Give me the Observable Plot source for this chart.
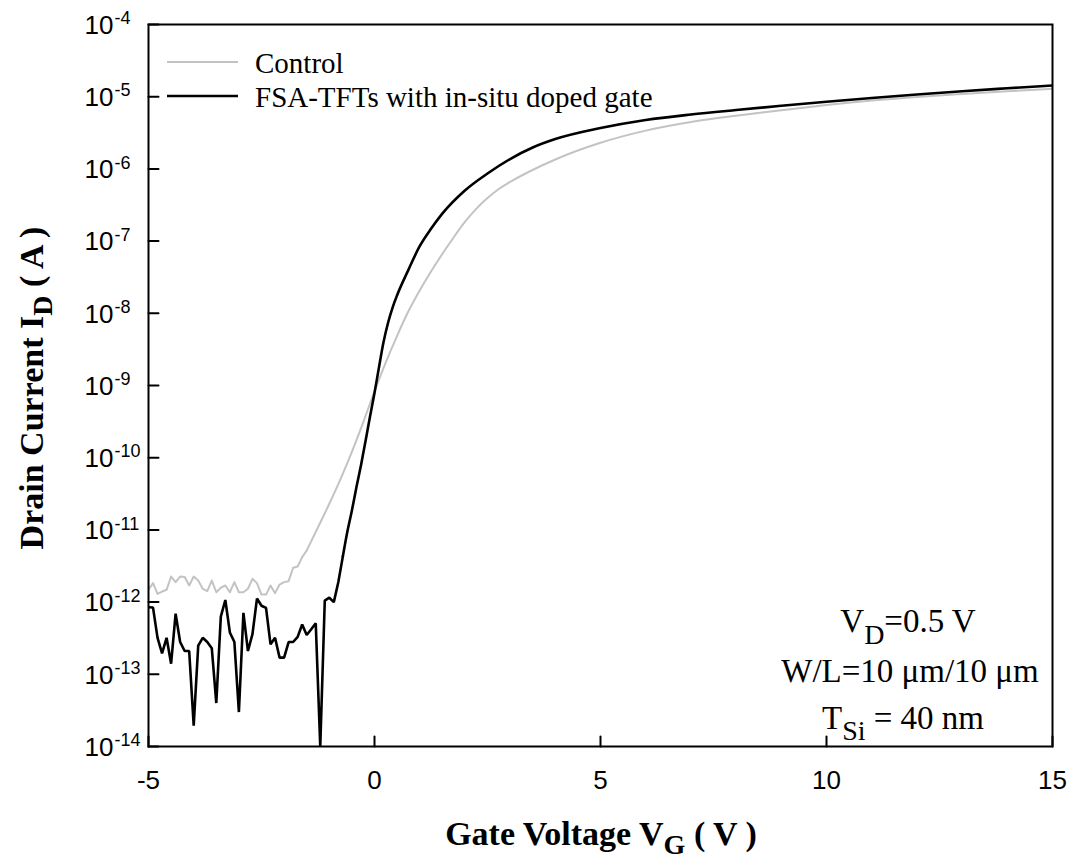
<!DOCTYPE html>
<html>
<head>
<meta charset="utf-8">
<script src="https://cdn.jsdelivr.net/npm/d3@7"></script>
<script src="https://cdn.jsdelivr.net/npm/@observablehq/plot@0.6"></script>
<style>
  html, body { margin: 0; padding: 0; background: #fff; }
  #chart svg { display: block; }
</style>
</head>
<body>
<div id="chart"></div>
<script>
// ---- Data ----
// FSA-TFTs with in-situ doped gate (black)
const fsaVg = [-5.0,-4.9,-4.8,-4.7,-4.6,-4.5,-4.4,-4.3,-4.2,-4.1,-4.0,-3.9,-3.8,-3.7,-3.6,-3.5,-3.4,-3.3,-3.2,-3.1,-3.0,-2.9,-2.8,-2.7,-2.6,-2.5,-2.4,-2.3,-2.2,-2.1,-2.0,-1.9,-1.8,-1.7,-1.6,-1.5,-1.4,-1.3,-1.2,-1.1,-1.0,-0.9,-0.8,
  -0.7,-0.6,-0.5,-0.4,-0.3,-0.2,-0.1,0.0,0.1,0.2,0.3,0.4,0.5,0.75,1.0,1.25,1.5,2.0,2.5,3.0,3.5,4.0,5.0,6.0,7.0,8.0,9.0,10,11,12,13,14,15];
const fsaId = [8.5e-13,8.4e-13,3.2e-13,1.95e-13,3.2e-13,1.4e-13,6.9e-13,2.8e-13,2.1e-13,2.1e-13,1.95e-14,2.5e-13,3.2e-13,2.8e-13,2.3e-13,4.0e-14,6.3e-13,1.07e-12,3.8e-13,2.8e-13,3.0e-14,7.1e-13,2.1e-13,3.6e-13,1.12e-12,8.9e-13,8.3e-13,2.6e-13,3.2e-13,1.7e-13,1.7e-13,2.8e-13,2.8e-13,3.3e-13,4.9e-13,3.5e-13,4.2e-13,5.1e-13,1.0e-14,1.05e-12,1.15e-12,1.0e-12,1.9e-12,
  4.3e-12,9.5e-12,1.86e-11,3.9e-11,7.8e-11,1.68e-10,3.7e-10,7.9e-10,1.8e-9,4.0e-9,7.4e-9,1.2e-8,1.78e-8,4.0e-8,8.5e-8,1.48e-7,2.4e-7,5.02e-7,8.63e-7,1.371e-6,1.98e-6,2.59e-6,3.68e-6,4.76e-6,5.67e-6,6.54e-6,7.48e-6,8.5e-6,9.59e-6,1.073e-5,1.19e-5,1.307e-5,1.43e-5];
const fsaNoiseEnd = -0.7;

// Control (gray)
const ctrlVg = [-5.0,-4.9,-4.8,-4.7,-4.6,-4.5,-4.4,-4.3,-4.2,-4.1,-4.0,-3.9,-3.8,-3.7,-3.6,-3.5,-3.4,-3.3,-3.2,-3.1,-3.0,-2.9,-2.8,-2.7,-2.6,-2.5,-2.4,-2.3,-2.2,-2.1,-2.0,-1.9,-1.8,-1.7,-1.6,-1.5,
  -1.25,-1.0,-0.75,-0.5,-0.25,0,0.25,0.5,0.75,1.0,1.25,1.5,1.75,2.0,2.25,2.5,2.75,3,4,5,6,7,8,9,10,11,12,13,14,15];
const ctrlId = [1.48e-12,1.83e-12,1.30e-12,1.40e-12,1.48e-12,2.26e-12,1.89e-12,2.26e-12,2.23e-12,1.70e-12,2.26e-12,1.99e-12,1.53e-12,1.42e-12,1.99e-12,1.37e-12,1.58e-12,1.70e-12,1.37e-12,1.89e-12,1.37e-12,1.37e-12,1.53e-12,2.10e-12,1.83e-12,1.27e-12,1.27e-12,1.70e-12,1.33e-12,1.75e-12,1.89e-12,1.95e-12,2.99e-12,3.11e-12,4.19e-12,5.19e-12,
  1.087e-11,2.30e-11,5.10e-11,1.207e-10,3.09e-10,8.31e-10,2.096e-9,4.88e-9,1.066e-8,2.07e-8,3.79e-8,6.63e-8,1.122e-7,1.84e-7,2.80e-7,3.95e-7,5.27e-7,6.59e-7,1.35e-6,2.30e-6,3.39e-6,4.46e-6,5.45e-6,6.48e-6,7.65e-6,8.83e-6,9.9e-6,1.09e-5,1.19e-5,1.286e-5];
const ctrlNoiseEnd = -1.5;

const xTicks = [-5, 0, 5, 10, 15];
const yTicks = [1e-14, 1e-13, 1e-12, 1e-11, 1e-10, 1e-9, 1e-8, 1e-7, 1e-6, 1e-5, 1e-4];
const seriesNames = ["Control", "FSA-TFTs with in-situ doped gate"];
const seriesColors = ["#c3c3c3", "#000000"];
const seriesWidths = [2, 2.6];

// ---- Tables ----
const fsa = fsaVg.map((v, i) => ({vg: v, id: fsaId[i]}));
const ctrl = ctrlVg.map((v, i) => ({vg: v, id: ctrlId[i]}));

const sans = "'Liberation Sans', Arial, sans-serif";
const serif = "'Liberation Serif', 'Times New Roman', serif";
const tickShape = {draw(ctx, l) { ctx.moveTo(0, 0); ctx.lineTo(0, -l); }};

const chart = Plot.plot({
  width: 1075,
  height: 865,
  marginLeft: 148,
  marginRight: 23,
  marginTop: 24,
  marginBottom: 119,
  x: {domain: [-5, 15], axis: null},
  y: {type: "log", domain: [1e-14, 1e-4], axis: null},
  style: {background: "white", overflow: "visible"},
  marks: [
    Plot.line(ctrl.filter(d => d.vg <= ctrlNoiseEnd), {x: "vg", y: "id", stroke: seriesColors[0], strokeWidth: seriesWidths[0], clip: "frame"}),
    Plot.line(ctrl.filter(d => d.vg >= ctrlNoiseEnd), {x: "vg", y: "id", stroke: seriesColors[0], strokeWidth: seriesWidths[0], curve: "monotone-x", clip: "frame"}),
    Plot.line(fsa.filter(d => d.vg <= fsaNoiseEnd), {x: "vg", y: "id", stroke: seriesColors[1], strokeWidth: seriesWidths[1], strokeLinejoin: "miter", clip: "frame"}),
    Plot.line(fsa.filter(d => d.vg >= fsaNoiseEnd), {x: "vg", y: "id", stroke: seriesColors[1], strokeWidth: seriesWidths[1], curve: "monotone-x", clip: "frame"}),
    Plot.frame({stroke: "black", strokeWidth: 2}),
    Plot.vector(xTicks, {x: d => d, frameAnchor: "bottom", length: 10, rotate: 0, anchor: "start", shape: tickShape, stroke: "black", strokeWidth: 2}),
    Plot.vector(yTicks, {y: d => d, frameAnchor: "left", length: 10, rotate: 90, anchor: "start", shape: tickShape, stroke: "black", strokeWidth: 2}),
    Plot.text(xTicks, {x: d => d, frameAnchor: "bottom", text: d => String(d), dy: 34, lineAnchor: "middle", fontSize: 26, fontFamily: sans, fill: "black"}),
    Plot.text(yTicks, {y: d => d, frameAnchor: "left", text: () => "10", dx: -35, dy: 1, textAnchor: "end", lineAnchor: "middle", fontSize: 26, fontFamily: sans, fill: "black"}),
    Plot.text(yTicks, {y: d => d, frameAnchor: "left", text: d => String(Math.round(Math.log10(d))), dx: -34, dy: -6, textAnchor: "start", lineAnchor: "middle", fontSize: 18, fontFamily: sans, fill: "black"})
  ]
});
document.getElementById("chart").appendChild(chart);

// ---- Rich text (legend, axis titles, annotations) ----
const svg = d3.select(chart);

const legend = svg.append("g").attr("font-family", serif).attr("font-size", 29).attr("fill", "black").attr("text-anchor", "start");
seriesNames.forEach((name, i) => {
  const y = 62 + i * 34;
  legend.append("line").attr("x1", 167).attr("x2", 238).attr("y1", y).attr("y2", y)
    .attr("stroke", seriesColors[i]).attr("stroke-width", seriesWidths[i]);
  legend.append("text").attr("x", 255).attr("y", y + 11).attr("text-anchor", "start").text(name);
});

// x title
const xt = svg.append("text").attr("x", 601).attr("y", 845).attr("text-anchor", "middle")
  .attr("font-family", serif).attr("font-weight", "bold").attr("font-size", 34).attr("fill", "black");
xt.append("tspan").text("Gate Voltage V");
xt.append("tspan").attr("dy", 9).attr("font-size", 28).text("G");
xt.append("tspan").attr("dy", -9).text("\u00a0( V )");

// y title
const yt = svg.append("text").attr("transform", "translate(43,388) rotate(-90)").attr("text-anchor", "middle")
  .attr("font-family", serif).attr("font-weight", "bold").attr("font-size", 34).attr("fill", "black");
yt.append("tspan").text("Drain Current I");
yt.append("tspan").attr("dy", 9).attr("font-size", 28).text("D");
yt.append("tspan").attr("dy", -9).text("\u00a0( A )");

// annotations
const ann = svg.append("g").attr("font-family", serif).attr("font-size", 33).attr("fill", "black").attr("text-anchor", "middle");
const a1 = ann.append("text").attr("x", 908).attr("y", 632);
a1.append("tspan").text("V");
a1.append("tspan").attr("dy", 12).attr("font-size", 28).text("D");
a1.append("tspan").attr("dy", -12).text("=0.5 V");
ann.append("text").attr("x", 910).attr("y", 682).text("W/L=10 \u03bcm/10 \u03bcm");
const a3 = ann.append("text").attr("x", 903).attr("y", 729);
a3.append("tspan").text("T");
a3.append("tspan").attr("dy", 11).attr("font-size", 28).text("Si");
a3.append("tspan").attr("dy", -11).text(" = 40 nm");
</script>
</body>
</html>
